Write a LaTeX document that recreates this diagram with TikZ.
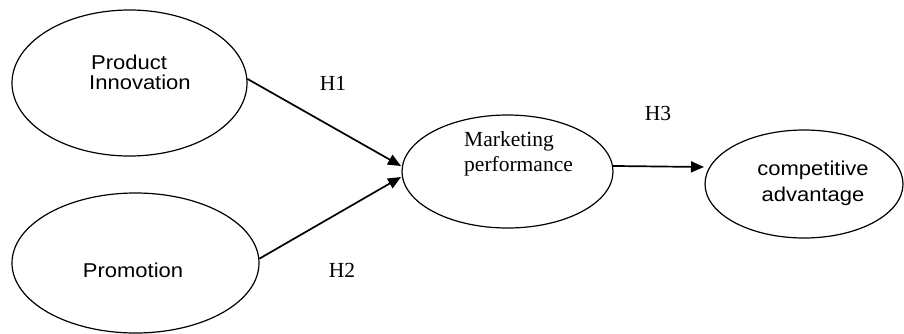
\documentclass[tikz,border=0pt]{standalone}
\usepackage{fontspec}
\setmainfont{Liberation Serif}
\newfontfamily\sfw[FakeStretch=1.1]{Liberation Sans}
\usetikzlibrary{shapes.geometric,arrows.meta}
\begin{document}
\begin{tikzpicture}[x=1pt,y=-1pt,
  oval/.style={draw,ellipse,inner sep=0pt,line width=1.2pt},
  sanslabel/.style={inner sep=0pt,font=\sfw\fontsize{20}{21}\selectfont},
  seriflabel/.style={inner sep=0pt,font=\fontsize{21.5}{24}\selectfont},
  link/.style={line width=1.7pt,-{Triangle[length=13pt,width=11pt]}}]
\useasboundingbox (0,0) rectangle (904,333);
\fill[white] (0,0) rectangle (904,333);
% ellipses
\node[oval,minimum width=235pt,minimum height=146pt] (pi) at (129.5,83) {};
\node[oval,minimum width=247pt,minimum height=140pt] (pr) at (135.5,263) {};
\node[oval,minimum width=211pt,minimum height=113pt] (mp) at (507.5,171.5) {};
\node[oval,minimum width=198pt,minimum height=108pt] (ca) at (804,184) {};
% texts
\node[sanslabel,anchor=base west] (t1a) at (91,69) {Product};
\node[sanslabel,anchor=base west] (t1b) at (89,89.5) {Innovation};
\node[sanslabel,anchor=base] (t2) at (133,277) {Promotion};
\node[seriflabel,anchor=base west] (t3a) at (464,146) {Marketing};
\node[seriflabel,anchor=base west] (t3b) at (464,171.5) {performance};
\node[sanslabel,anchor=base] (t4a) at (813,175) {competitive};
\node[sanslabel,anchor=base] (t4b) at (813,201) {advantage};
\node[seriflabel,anchor=base] (h1) at (333,90) {H1};
\node[seriflabel,anchor=base] (h2) at (342,277.5) {H2};
\node[seriflabel,anchor=base] (h3) at (658,120.5) {H3};
% arrow tips
\coordinate (e1) at (401,166);
\coordinate (e2) at (401,177);
\coordinate (e3) at (704,167);
\draw[link] (pi.2) -- (e1);
\draw[link] (pr.2) -- (e2);
\draw[link] (mp.3) -- (e3);
\end{tikzpicture}
\end{document}
